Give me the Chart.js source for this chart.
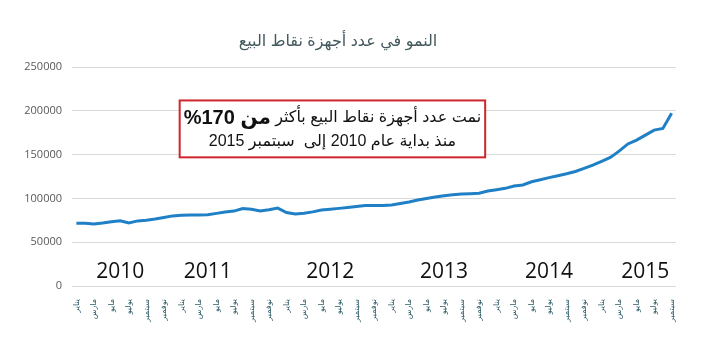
<!DOCTYPE html>
<html>
<head>
<meta charset="utf-8">
<script src="https://cdn.jsdelivr.net/npm/chart.js@4"></script>
<style>
  html, body { margin: 0; padding: 0; background: #fff; }
  #wrap { width: 702px; height: 351px; }
</style>
</head>
<body>
<div id="wrap"><canvas id="pos"></canvas></div>
<script>
// ─── Data ──────────────────────────────────────────────────────────────────
const monthNames = ["يناير", "فبراير", "مارس", "أبريل", "مايو", "يونيو",
  "يوليو", "أغسطس", "سبتمبر", "أكتوبر", "نوفمبر", "ديسمبر"];
const years = [2010, 2011, 2012, 2013, 2014, 2015];

// monthly number of POS terminals, Jan 2010 – Sep 2015
const posCount = [
  71600, 71600, 70800, 71900, 73400, 74500, 71900, 74400, 75200, 76500, 78200, 80100,
  80900, 81100, 81100, 81300, 83000, 84500, 85600, 88500, 87600, 85800, 87200, 89000,
  83900, 82400, 83100, 84700, 86800, 87800, 88700, 89700, 90900, 91900, 91900, 92100,
  92500, 94200, 95900, 98200, 99900, 101600, 103100, 104300, 105100, 105400, 105900, 108500,
  110000, 111600, 114200, 115500, 119100, 121400, 123800, 125900, 128200, 130800, 134400, 138100,
  142500, 146900, 154100, 162300, 166700, 172400, 178100, 180000, 197500
];

// year captions and the month index they sit under
const yearLabels = ["2010", "2011", "2012", "2013", "2014", "2015"];
const yearIdx = [5, 15, 29, 42, 54, 65];

const titleText = "النمو في عدد أجهزة نقاط البيع";
const noteLine1 = "نمت عدد أجهزة نقاط البيع بأكثر ";
const noteLine1Bold = "من 170%";
const noteLine2 = "منذ بداية عام 2010 إلى  سبتمبر 2015";

// one label per month (axis shows every second one)
const labels = [];
years.forEach(() => monthNames.forEach(m => labels.push(m)));
labels.length = posCount.length;

const AR_FONT = '"Liberation Sans", "DejaVu Sans", sans-serif';

// ─── Annotations: year captions + red note box ─────────────────────────────
const notesPlugin = {
  id: "notes",
  afterDraw(chart) {
    const { ctx, scales: { x, y } } = chart;
    ctx.save();

    // years
    ctx.fillStyle = "#111";
    ctx.font = '21px "Open Sans", "Liberation Sans", sans-serif';
    ctx.textAlign = "center";
    ctx.textBaseline = "middle";
    yearLabels.forEach((t, i) => {
      ctx.fillText(t, x.getPixelForValue(yearIdx[i]), y.getPixelForValue(15500));
    });

    // note box
    const l = x.getPixelForValue(11.8), r = x.getPixelForValue(46.7);
    const t = y.getPixelForValue(212000), b = y.getPixelForValue(147000);
    ctx.fillStyle = "#fff";
    ctx.fillRect(l, t, r - l, b - t);
    ctx.strokeStyle = "#d0262b";
    ctx.lineWidth = 2;
    ctx.strokeRect(l, t, r - l, b - t);

    const cx = (l + r) / 2;
    ctx.direction = "rtl";
    ctx.fillStyle = "#111";
    ctx.textBaseline = "middle";
    const regFont = "16px " + AR_FONT;
    const boldFont = "bold 20px " + AR_FONT;
    ctx.font = regFont;
    const wA = ctx.measureText(noteLine1).width;
    ctx.font = boldFont;
    const wB = ctx.measureText(noteLine1Bold).width;
    const right = cx + (wA + wB) / 2;
    const y1 = t + (b - t) * 0.31, y2 = t + (b - t) * 0.72;
    ctx.textAlign = "right";
    ctx.font = regFont;
    ctx.fillText(noteLine1, right, y1);
    ctx.font = boldFont;
    ctx.fillText(noteLine1Bold, right - wA, y1);
    ctx.font = regFont;
    ctx.textAlign = "center";
    ctx.fillText(noteLine2, cx, y2);

    ctx.restore();
  },
};

new Chart(document.getElementById("pos"), {
  type: "line",
  data: {
    labels,
    datasets: [{
      data: posCount,
      borderColor: "#1f80c6",
      borderWidth: 3,
      pointRadius: 0,
      tension: 0,
      fill: false,
    }],
  },
  plugins: [notesPlugin],
  options: {
    responsive: true,
    maintainAspectRatio: false,
    animation: false,
    layout: { padding: { right: 26 } },
    plugins: {
      legend: { display: false },
      tooltip: { enabled: false },
      title: {
        display: true,
        text: titleText,
        color: "#44595e",
        font: { size: 16, weight: "normal", family: AR_FONT, lineHeight: 1.2 },
        padding: { top: 32, bottom: 16 },
      },
    },
    scales: {
      x: {
        offset: true,
        grid: { display: false },
        border: { display: false },
        afterFit(scale) { scale.height = 65; },
        ticks: {
          autoSkip: false,
          minRotation: 90,
          maxRotation: 90,
          padding: 5,
          color: "#2f5d68",
          font: { size: 8, family: AR_FONT },
          callback(val, i) { return i % 2 === 0 ? this.getLabelForValue(val) : ""; },
        },
      },
      y: {
        min: 0,
        max: 250000,
        border: { display: false },
        grid: { color: "#d9d9d9", drawTicks: false },
        afterFit(scale) { scale.width = 72; },
        ticks: {
          stepSize: 50000,
          padding: 10,
          color: "#595959",
          font: { size: 11, family: '"Open Sans", sans-serif' },
          callback: v => String(v),
        },
      },
    },
  },
});
</script>
</body>
</html>
